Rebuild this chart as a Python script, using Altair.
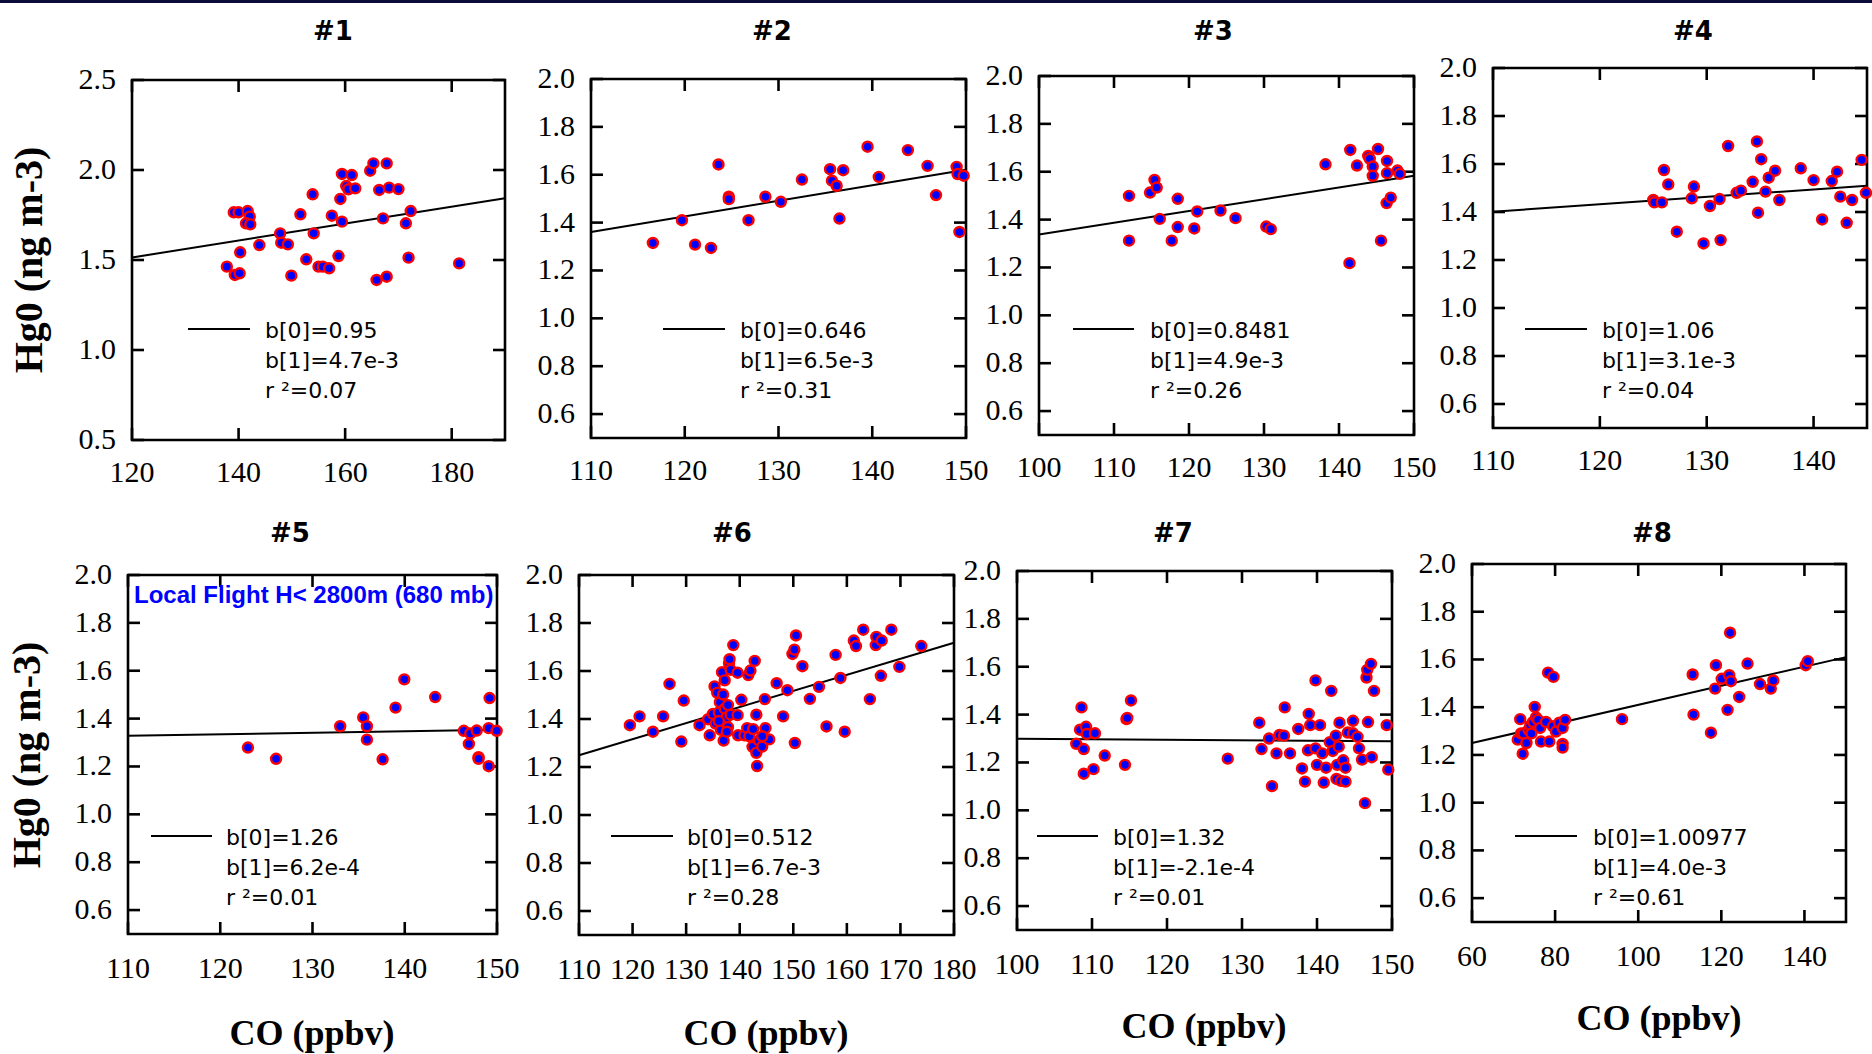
import altair as alt
import pandas as pd

# ------------------------------------------------------------------ data
co_1 = [137.8, 139.1, 140.0, 141.7, 142.1, 141.4, 142.2, 140.3, 139.3, 140.2, 143.9, 147.8, 148.0, 149.25,
        149.9, 151.6, 152.7, 153.9, 154.1, 155.0, 155.8, 157.0, 157.5, 158.75, 159.1, 159.4, 159.4, 160.2,
        160.6, 161.25, 161.9, 164.7, 165.3, 167.8, 166.4, 168.25, 170.0, 167.1, 165.9, 167.8, 171.4, 172.3,
        171.9, 181.4]
hg_1 = [1.463, 1.765, 1.765, 1.772, 1.741, 1.704, 1.698, 1.543, 1.417, 1.426, 1.583, 1.648, 1.596, 1.587,
        1.413, 1.754, 1.504, 1.865, 1.648, 1.463, 1.463, 1.454, 1.746, 1.522, 1.839, 1.713, 1.978, 1.911,
        1.893, 1.972, 1.898, 1.996, 2.037, 2.037, 1.889, 1.902, 1.894, 1.731, 1.389, 1.407, 1.704, 1.772,
        1.513, 1.481]

co_2 = [116.6, 119.7, 121.1, 122.8, 123.6, 124.7, 124.7, 126.8, 128.6, 130.25, 132.5, 135.5, 135.7, 136.2,
        136.5, 136.9, 139.5, 140.7, 143.8, 145.9, 146.8, 149.0, 149.1, 149.75, 149.3]
hg_2 = [1.315, 1.410, 1.308, 1.294, 1.643, 1.508, 1.498, 1.410, 1.508, 1.487, 1.580, 1.623, 1.575, 1.554,
        1.417, 1.619, 1.717, 1.591, 1.703, 1.637, 1.515, 1.633, 1.603, 1.596, 1.361]

co_3 = [112.0, 112.0, 114.8, 115.4, 115.7, 116.1, 117.7, 118.5, 118.5, 120.7, 121.1, 124.2, 126.2, 130.3,
        130.9, 138.2, 141.5, 141.4, 142.4, 143.9, 144.1, 144.5, 144.5, 145.2, 145.6, 146.4, 146.4, 146.35,
        146.9, 147.8, 148.1]
hg_3 = [1.499, 1.312, 1.513, 1.566, 1.534, 1.403, 1.312, 1.487, 1.369, 1.363, 1.434, 1.438, 1.406, 1.371,
        1.360, 1.631, 1.691, 1.218, 1.626, 1.666, 1.654, 1.622, 1.583, 1.695, 1.312, 1.645, 1.594, 1.469,
        1.492, 1.605, 1.591]

co_4 = [125.0, 125.1, 125.8, 126.0, 126.4, 127.2, 128.6, 128.8, 129.7, 130.3, 131.2, 131.3, 132.0, 132.8,
        133.2, 134.3, 134.7, 134.8, 135.1, 135.5, 135.8, 136.4, 136.8, 138.8, 140.0, 140.8, 141.7, 142.2,
        142.5, 143.1, 143.6, 144.5, 144.9]
hg_4 = [1.450, 1.440, 1.440, 1.575, 1.515, 1.318, 1.457, 1.506, 1.269, 1.425, 1.454, 1.283, 1.675, 1.480,
        1.489, 1.526, 1.694, 1.397, 1.620, 1.485, 1.543, 1.572, 1.450, 1.582, 1.533, 1.369, 1.529, 1.568,
        1.464, 1.355, 1.450, 1.617, 1.480]

co_5 = [123.0, 126.05, 133.0, 135.5, 135.9, 135.9, 137.6, 139.0, 139.95, 143.3, 146.4, 146.95, 147.1, 147.8,
        148.0, 148.0, 149.2, 149.1, 149.1, 149.96]
hg_5 = [1.279, 1.232, 1.368, 1.405, 1.368, 1.312, 1.230, 1.446, 1.564, 1.490, 1.349, 1.294, 1.338, 1.350,
        1.239, 1.232, 1.486, 1.360, 1.201, 1.349]

co_6 = [119.5, 121.3, 123.8, 125.7, 126.9, 129.1, 129.55, 132.5, 134.4, 134.1, 135.0, 135.3, 135.5, 135.8,
        136.1, 136.3, 136.5, 136.7, 136.9, 137.0, 137.2, 137.2, 137.5, 137.8, 137.8, 138.0, 138.1, 138.3,
        138.3, 138.8, 139.6, 139.6, 139.7, 140.3, 140.9, 141.4, 141.6, 141.8, 142.0, 142.5, 142.4, 142.8,
        143.1, 143.1, 143.25, 143.6, 144.2, 144.8, 145.5, 144.7, 146.9, 148.1, 148.9, 149.85, 150.2, 150.5,
        150.3, 151.7, 153.1, 154.8, 156.2, 157.9, 158.8, 159.6, 161.3, 161.7, 163.05, 164.3, 165.4, 165.5,
        166.5, 166.35, 168.3, 169.8, 173.9, 136.1, 137.6, 144.2]
hg_6 = [1.374, 1.411, 1.347, 1.411, 1.546, 1.306, 1.477, 1.374, 1.332, 1.399, 1.421, 1.536, 1.381, 1.509,
        1.428, 1.470, 1.355, 1.595, 1.502, 1.310, 1.561, 1.443, 1.406, 1.458, 1.366, 1.632, 1.649, 1.605,
        1.418, 1.708, 1.593, 1.416, 1.332, 1.480, 1.332, 1.362, 1.583, 1.328, 1.602, 1.358, 1.284, 1.642,
        1.418, 1.259, 1.204, 1.310, 1.285, 1.362, 1.315, 1.483, 1.549, 1.411, 1.520, 1.671, 1.689, 1.748,
        1.300, 1.620, 1.484, 1.534, 1.369, 1.667, 1.571, 1.347, 1.727, 1.704, 1.772, 1.483, 1.708, 1.742,
        1.727, 1.580, 1.772, 1.617, 1.704, 1.391, 1.347, 1.328]

co_7 = [107.9, 108.4, 108.6, 108.9, 108.9, 109.2, 109.3, 110.2, 110.4, 111.7, 114.4, 114.6, 114.7, 115.2,
        128.1, 132.3, 132.6, 133.6, 134.0, 134.6, 135.0, 135.6, 135.7, 136.4, 137.5, 138.0, 138.4, 138.8,
        138.9, 139.1, 139.8, 139.8, 140.0, 140.4, 140.7, 140.9, 141.2, 141.7, 141.9, 142.1, 142.5, 142.7,
        142.6, 142.9, 143.0, 143.2, 143.5, 143.8, 143.8, 144.1, 144.8, 144.8, 145.4, 145.6, 146.0, 146.4,
        146.6, 146.7, 146.8, 147.2, 147.3, 147.6, 149.3, 149.5]
hg_7 = [1.278, 1.337, 1.430, 1.256, 1.153, 1.349, 1.319, 1.172, 1.322, 1.229, 1.190, 1.381, 1.386, 1.459,
        1.216, 1.366, 1.256, 1.300, 1.101, 1.238, 1.315, 1.312, 1.430, 1.238, 1.340, 1.175, 1.120, 1.251,
        1.403, 1.356, 1.543, 1.259, 1.190, 1.356, 1.238, 1.116, 1.178, 1.285, 1.499, 1.248, 1.312, 1.190,
        1.131, 1.266, 1.366, 1.123, 1.209, 1.178, 1.120, 1.325, 1.374, 1.322, 1.307, 1.259, 1.212, 1.030,
        1.555, 1.587, 1.369, 1.612, 1.222, 1.499, 1.356, 1.170]

co_8 = [71.0, 71.6, 71.8, 72.2, 72.4, 73.1, 73.6, 74.0, 74.3, 74.7, 75.1, 75.4, 75.9, 76.4, 76.6, 77.8,
        78.3, 78.6, 79.6, 79.5, 80.2, 81.0, 81.8, 81.8, 81.8, 82.4, 96.1, 113.1, 113.3, 117.5, 118.5, 118.7,
        120.1, 121.5, 121.9, 122.1, 122.3, 124.3, 126.3, 129.3, 131.9, 132.5, 140.3, 140.8]
hg_8 = [1.264, 1.350, 1.290, 1.205, 1.290, 1.250, 1.305, 1.323, 1.290, 1.338, 1.401, 1.357, 1.347, 1.313,
        1.256, 1.338, 1.545, 1.256, 1.527, 1.320, 1.298, 1.335, 1.313, 1.246, 1.231, 1.347, 1.350, 1.537,
        1.369, 1.293, 1.478, 1.576, 1.519, 1.389, 1.534, 1.712, 1.509, 1.443, 1.583, 1.497, 1.478, 1.512,
        1.576, 1.593]

CO = [co_1, co_2, co_3, co_4, co_5, co_6, co_7, co_8]
HG = [hg_1, hg_2, hg_3, hg_4, hg_5, hg_6, hg_7, hg_8]

b0 = [0.95, 0.646, 0.8481, 1.06, 1.26, 0.512, 1.32, 1.00977]
b1 = [4.7e-3, 6.5e-3, 4.9e-3, 3.1e-3, 6.2e-4, 6.7e-3, -2.1e-4, 4.0e-3]
b0_text = ["0.95", "0.646", "0.8481", "1.06", "1.26", "0.512", "1.32", "1.00977"]
b1_text = ["4.7e-3", "6.5e-3", "4.9e-3", "3.1e-3", "6.2e-4", "6.7e-3", "-2.1e-4", "4.0e-3"]
r2_text = ["0.07", "0.31", "0.26", "0.04", "0.01", "0.28", "0.01", "0.61"]
titles = ["#1", "#2", "#3", "#4", "#5", "#6", "#7", "#8"]

x_domains = [[120, 190], [110, 150], [100, 150], [110, 145], [110, 150], [110, 180], [100, 150], [60, 150]]
x_ticks = [[120, 140, 160, 180], [110, 120, 130, 140, 150], [100, 110, 120, 130, 140, 150],
           [110, 120, 130, 140], [110, 120, 130, 140, 150], [110, 120, 130, 140, 150, 160, 170, 180],
           [100, 110, 120, 130, 140, 150], [60, 80, 100, 120, 140]]
y_domains = [[0.5, 2.5]] + [[0.5, 2.0]] * 7
y_ticks = [[0.5, 1.0, 1.5, 2.0, 2.5]] + [[0.6, 0.8, 1.0, 1.2, 1.4, 1.6, 1.8, 2.0]] * 7

y_title = "Hg0 (ng m-3)"
x_title = "CO (ppbv)"
note = "Local Flight H< 2800m (680 mb)"

# ------------------------------------------------------------------ layout (absolute pixels)
COL_X = [0, 540, 990, 1430]
COL_W = [540, 450, 440, 442]
ROW_Y = [0, 500]
ROW_H = [500, 554]
BOX = [(132, 505, 80, 440), (591, 966, 79, 438), (1039, 1414, 76, 435), (1493, 1867, 68, 428),
       (128, 497, 575, 934), (579, 954, 575, 935), (1017, 1392, 571, 930), (1472, 1846, 564, 922)]
TITLE_POS = [(333, 40), (772, 40), (1213, 40), (1693, 40),
             (290, 542), (732, 542), (1173, 542), (1652, 542)]
LEG = [(188, 250, 329, 265, 338), (663, 725, 329, 740, 338), (1073, 1134, 329, 1150, 338),
       (1525, 1587, 329, 1602, 338), (151, 212, 836, 226, 845), (611, 673, 836, 687, 845),
       (1037, 1098, 836, 1113, 845), (1515, 1577, 836, 1593, 845)]
XTITLE_POS = {4: (312, 1045), 5: (766, 1045), 6: (1204, 1038), 7: (1659, 1030)}
YTITLE_POS = {0: (42, 260), 4: (40, 755)}
NOTE_POS = (134, 603)
XLAB_OFF = [42, 44]
TICK = 12
SERIF = "Liberation Serif"
SANS = "Liberation Sans"

one = pd.DataFrame({"d": [0]})


def panel(i):
    row, col = divmod(i, 4)
    ox, oy = COL_X[col], ROW_Y[row]
    W, H = COL_W[col], ROW_H[row]
    L, R, T, B = BOX[i]
    xl, xr, yt, yb = L - ox, R - ox, T - oy, B - oy
    xd, yd = x_domains[i], y_domains[i]
    xs = alt.Scale(domain=xd, range=[xl, xr], nice=False, zero=False)
    ys = alt.Scale(domain=yd, range=[yb, yt], nice=False, zero=False)

    def X(f="x"):
        return alt.X(f"{f}:Q", scale=xs, axis=None)

    def Y(f="y"):
        return alt.Y(f"{f}:Q", scale=ys, axis=None)

    layers = []
    if i == 0:
        layers.append(alt.Chart(one).mark_rect(color="#0b0b3b").encode(
            x=alt.value(0), x2=alt.value(1872), y=alt.value(0), y2=alt.value(3)))

    # frame
    frame = pd.DataFrame({"x": [xd[0]], "x2": [xd[1]], "y": [yd[0]], "y2": [yd[1]]})
    layers.append(alt.Chart(frame).mark_rect(fillOpacity=0, stroke="black", strokeWidth=2.6).encode(
        x=X(), x2="x2:Q", y=Y(), y2="y2:Q"))

    xt = pd.DataFrame({"x": x_ticks[i]})
    yt_df = pd.DataFrame({"y": y_ticks[i]})
    tick_style = dict(color="black", strokeWidth=2.6)
    layers.append(alt.Chart(xt).mark_rule(**tick_style).encode(
        x=X(), y=alt.value(yb), y2=alt.value(yb - TICK)))
    layers.append(alt.Chart(xt).mark_rule(**tick_style).encode(
        x=X(), y=alt.value(yt), y2=alt.value(yt + TICK)))
    layers.append(alt.Chart(yt_df).mark_rule(**tick_style).encode(
        y=Y(), x=alt.value(xl), x2=alt.value(xl + TICK)))
    layers.append(alt.Chart(yt_df).mark_rule(**tick_style).encode(
        y=Y(), x=alt.value(xr), x2=alt.value(xr - TICK)))

    # tick labels
    layers.append(alt.Chart(xt).mark_text(font=SERIF, fontSize=30, align="center",
                                          baseline="alphabetic", color="black").encode(
        x=X(), y=alt.value(yb + XLAB_OFF[row]), text=alt.Text("x:Q", format="d")))
    layers.append(alt.Chart(yt_df).mark_text(font=SERIF, fontSize=30, align="right",
                                             baseline="middle", color="black").encode(
        y=Y(), x=alt.value(xl - 16), text=alt.Text("y:Q", format=".1f")))

    # regression line from the fitted coefficients
    fit = pd.DataFrame({"x": xd, "y": [b0[i] + b1[i] * v for v in xd]})
    layers.append(alt.Chart(fit).mark_line(color="black", strokeWidth=2).encode(x=X(), y=Y()))

    # points
    pts = pd.DataFrame({"x": CO[i], "y": HG[i]})
    layers.append(alt.Chart(pts).mark_circle(color="#0000ff", stroke="#ff0000", strokeWidth=2.4,
                                             size=100, opacity=1, clip=True).encode(x=X(), y=Y()))

    # legend
    lx1, lx2, ly, tx, tb = LEG[i]
    layers.append(alt.Chart(one).mark_rule(color="black", strokeWidth=2).encode(
        x=alt.value(lx1 - ox), x2=alt.value(lx2 - ox), y=alt.value(ly - oy)))
    layers.append(alt.Chart(one).mark_text(font="DejaVu Sans", fontSize=22, align="left",
                                           baseline="alphabetic", lineHeight=30, color="black").encode(
        x=alt.value(tx - ox), y=alt.value(tb - oy),
        text=alt.value([f"b[0]={b0_text[i]}", f"b[1]={b1_text[i]}", f"r \u00b2={r2_text[i]}"])))

    # panel title
    tpx, tpy = TITLE_POS[i]
    layers.append(alt.Chart(one).mark_text(font="DejaVu Sans", fontSize=26, fontWeight="bold",
                                           align="center", baseline="alphabetic", color="black").encode(
        x=alt.value(tpx - ox), y=alt.value(tpy - oy), text=alt.value(titles[i])))

    if i in YTITLE_POS:
        px, py = YTITLE_POS[i]
        layers.append(alt.Chart(one).mark_text(font=SERIF, fontSize=40, fontWeight="bold", angle=270,
                                               align="center", baseline="alphabetic", color="black").encode(
            x=alt.value(px - ox), y=alt.value(py - oy), text=alt.value(y_title)))
    if i in XTITLE_POS:
        px, py = XTITLE_POS[i]
        layers.append(alt.Chart(one).mark_text(font=SERIF, fontSize=36, fontWeight="bold",
                                               align="center", baseline="alphabetic", color="black").encode(
            x=alt.value(px - ox), y=alt.value(py - oy), text=alt.value(x_title)))
    if i == 4:
        layers.append(alt.Chart(one).mark_text(font=SANS, fontSize=24, fontWeight="bold", align="left",
                                               baseline="alphabetic", color="#0000ff").encode(
            x=alt.value(NOTE_POS[0] - ox), y=alt.value(NOTE_POS[1] - oy), text=alt.value(note)))

    return alt.layer(*layers).properties(width=W, height=H)


chart = alt.concat(*[panel(i) for i in range(8)], columns=4, bounds="flush", align="each",
                   spacing=0).properties(padding=0, background="white").configure_view(stroke=None)

chart.save("out.html", embed_options={"renderer": "svg", "actions": False})
